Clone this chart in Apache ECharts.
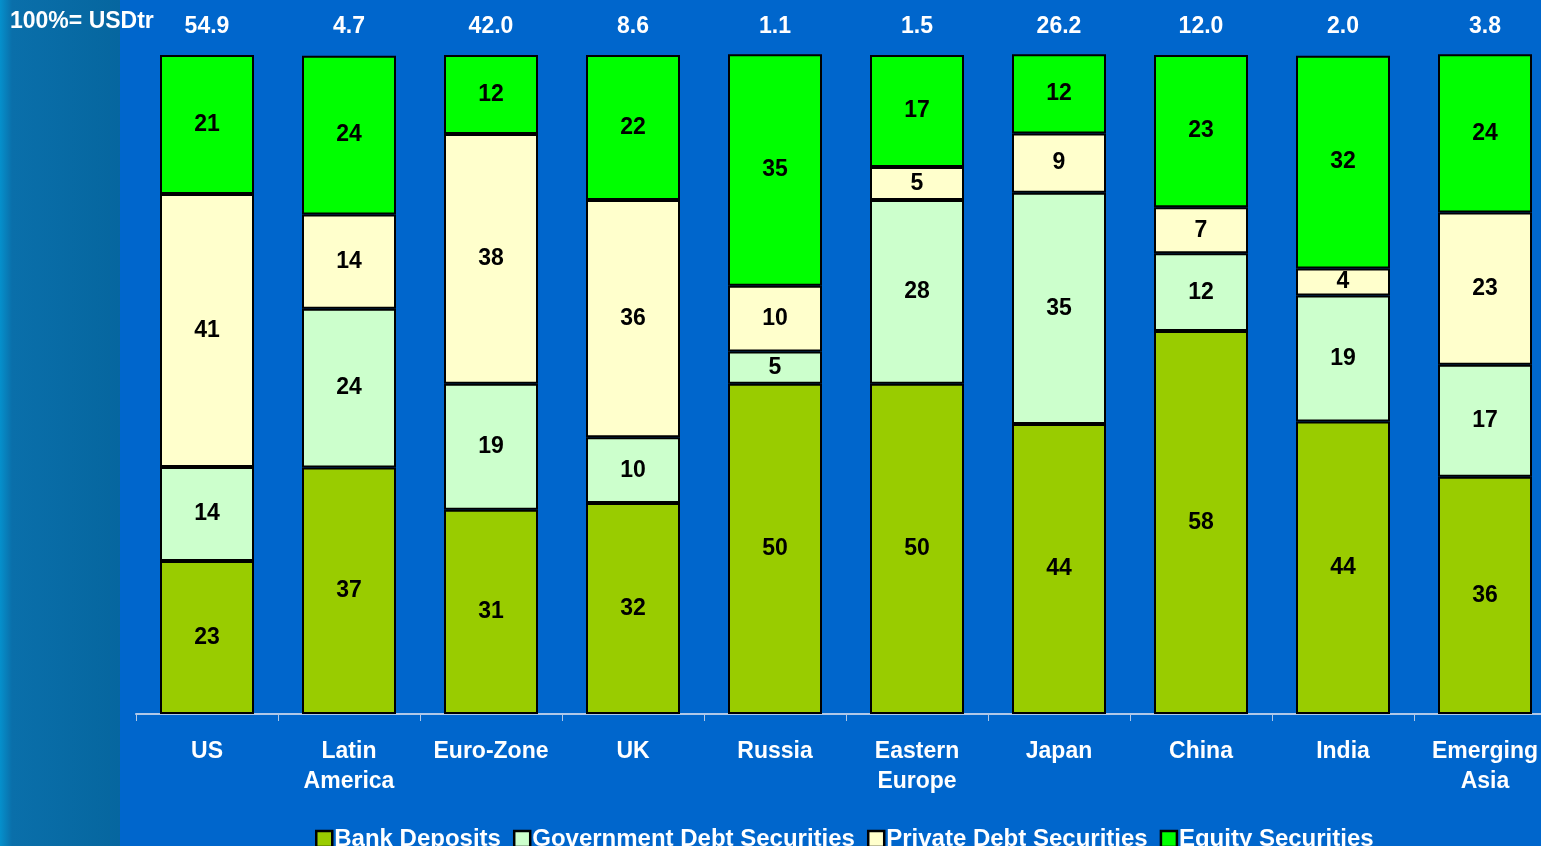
<!DOCTYPE html>
<html>
<head>
<meta charset="utf-8">
<script src="https://cdn.jsdelivr.net/npm/echarts@6/dist/echarts.min.js"></script>
<style>
html,body{margin:0;padding:0;background:#0066CC;overflow:hidden;width:1541px;height:846px;}
#c{width:1556px;height:846px;}
</style>
</head>
<body>
<div id="c"></div>
<script>
const categories = ['US','Latin\nAmerica','Euro-Zone','UK','Russia','Eastern\nEurope','Japan','China','India','Emerging\nAsia'];
const totals = ['54.9','4.7','42.0','8.6','1.1','1.5','26.2','12.0','2.0','3.8'];
const bankDeposits = [23.2, 37.4, 31.0, 32.0, 50.1, 50.1, 44.0, 58.1, 44.4, 36.0];
const govDebt      = [14.3, 24.1, 19.1, 10.0, 4.9, 27.9, 35.1, 11.8, 19.1, 17.0];
const privateDebt  = [41.4, 14.3, 37.9, 36.0, 10.0, 5.0, 9.0, 7.0, 4.1, 23.1];
const equity       = [21.1, 24.1, 12.0, 22.0, 35.1, 17.0, 12.0, 23.1, 32.3, 24.0];

const chart = echarts.init(document.getElementById('c'));
const FONT = '"Liberation Sans", Arial, sans-serif';
function mk(name, data, color){
  return {
    name, type:'bar', stack:'t', data, barWidth:94,
    itemStyle:{color, borderColor:'#000', borderWidth:2},
    label:{show:true, position:'inside', color:'#000', fontWeight:'bold', fontSize:23, fontFamily:FONT,
      formatter:p=>Math.round(p.value)},
    emphasis:{disabled:true}
  };
}
chart.setOption({
  backgroundColor:'#0066CC',
  animation:false,
  graphic:[
    {type:'rect', z:-10, shape:{x:0,y:0,width:120,height:846},
     style:{fill:{type:'linear',x:0,y:0,x2:1,y2:0,colorStops:[
       {offset:0,color:'#0590CC'},{offset:0.1,color:'#0A6FAA'},{offset:1,color:'#06669F'}]}}},
    {type:'text', left:10, top:10, style:{text:'100%= USDtr', fill:'#fff', font:'bold 23px '+FONT}}
  ],
  grid:{left:136, top:55, right:0, height:659},
  legend:{
    top:822, left:310, itemWidth:16, itemHeight:16, itemGap:12, icon:'rect',
    textStyle:{color:'#fff', fontWeight:'bold', fontSize:24, fontFamily:FONT, padding:[0,0,0,-3]},
    itemStyle:{borderColor:'#000', borderWidth:2.5},
    selectedMode:false
  },
  xAxis:[
    {type:'category', data:categories, position:'bottom',
     axisLine:{lineStyle:{color:'#B0C8E8', width:2}},
     axisTick:{show:true, length:7, lineStyle:{color:'#B0C8E8'}},
     axisLabel:{color:'#fff', fontWeight:'bold', fontSize:23, fontFamily:FONT, margin:23, lineHeight:30, interval:0}},
    {type:'category', data:totals, position:'top',
     axisLine:{show:false}, axisTick:{show:false},
     axisLabel:{color:'#fff', fontWeight:'bold', fontSize:23, fontFamily:FONT, margin:17, interval:0}}
  ],
  yAxis:{type:'value', min:0, max:100, show:false, splitLine:{show:false}},
  series:[
    mk('Bank Deposits', bankDeposits, '#99CC00'),
    mk('Government Debt Securities', govDebt, '#CCFFCC'),
    mk('Private Debt Securities', privateDebt, '#FFFFCC'),
    mk('Equity Securities', equity, '#00FF00')
  ]
});
</script>
</body>
</html>
